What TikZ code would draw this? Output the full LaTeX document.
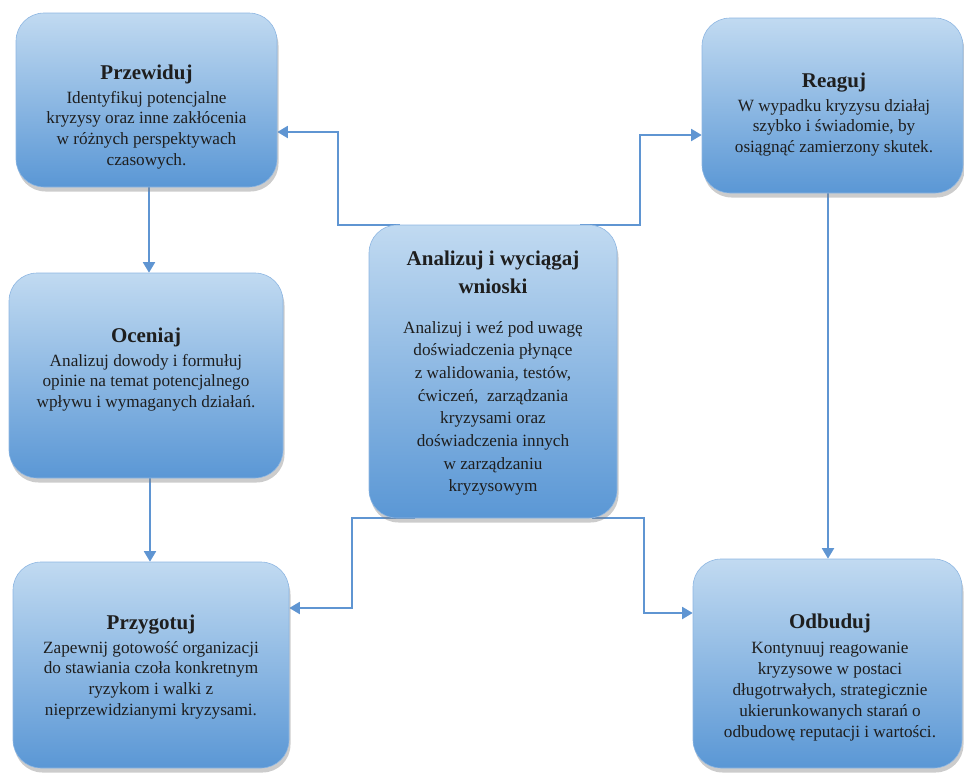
\documentclass[tikz,border=0pt]{standalone}
\usepackage{fontspec}
\setmainfont{Liberation Serif}
\usetikzlibrary{arrows.meta,shadows,backgrounds}
\definecolor{boxtop}{HTML}{C1DAF1}
\definecolor{boxbot}{HTML}{5A97D5}
\definecolor{boxedge}{HTML}{8DB6E2}
\definecolor{link}{HTML}{5F95D2}
\definecolor{ink}{HTML}{1E1E1E}

\begin{document}
\begin{tikzpicture}[x=1pt,y=-1pt,
  stagebox/.style={rectangle, rounded corners=28pt, inner sep=0pt,
    top color=boxtop, bottom color=boxbot, draw=boxedge, line width=0.6pt,
    drop shadow={shadow xshift=1.5pt, shadow yshift=-4.5pt, opacity=0.4}},
  ttl/.style={font=\fontsize{21}{28}\selectfont\bfseries, text=ink,
    align=center, inner sep=0pt, anchor=base},
  txt/.style={font=\fontsize{17.2}{20.8}\selectfont, text=ink,
    align=center, inner sep=0pt, anchor=base},
  conn/.style={draw=link, line width=1.8pt, -{Triangle[width=12pt,length=10.5pt]}}]

\useasboundingbox (0,0) rectangle (964,772);

% the six stages
\node[stagebox, minimum width=261pt, minimum height=174pt] (prz) at (146.5,100) {};
\node[stagebox, minimum width=274pt, minimum height=205pt] (oce) at (146,375.5) {};
\node[stagebox, minimum width=276pt, minimum height=206pt] (przyg) at (151,665) {};
\node[stagebox, minimum width=248pt, minimum height=293pt] (c) at (493,371.5) {};
\node[stagebox, minimum width=261pt, minimum height=175pt] (reag) at (832.5,105.5) {};
\node[stagebox, minimum width=269pt, minimum height=209pt] (odb) at (827.5,663.5) {};

% texts (a multi-line node sits on the baseline of its last line)
\node[ttl] (prz-t) at (146.5,79) {Przewiduj};
\node[txt] (prz-d) at (146.5,165.4) {Identyfikuj potencjalne\\kryzysy oraz inne zakłócenia\\w różnych perspektywach\\czasowych.};

\node[ttl] (oce-t) at (146,342) {Oceniaj};
\node[txt, font=\fontsize{17.2}{20.5}\selectfont] (oce-d) at (146,407) {Analizuj dowody i formułuj\\opinie na temat potencjalnego\\wpływu i wymaganych działań.};

\node[ttl] (przyg-t) at (151,629) {Przygotuj};
\node[txt] (przyg-d) at (151,715.4) {Zapewnij gotowość organizacji\\do stawiania czoła konkretnym\\ryzykom i walki z\\nieprzewidzianymi kryzysami.};

\node[ttl] (reag-t) at (834,87) {Reaguj};
\node[txt] (reag-d) at (834,152.6) {W wypadku kryzysu działaj\\szybko i świadomie, by\\osiągnąć zamierzony skutek.};

\node[ttl] (odb-t) at (830,628) {Odbuduj};
\node[txt, font=\fontsize{17.2}{21.2}\selectfont] (odb-d) at (830,737.8) {Kontynuuj reagowanie\\kryzysowe w postaci\\długotrwałych, strategicznie\\ukierunkowanych starań o\\odbudowę reputacji i wartości.};

\node[ttl] (c-t) at (493,293) {Analizuj i wyciągaj\\wnioski};
\node[txt, font=\fontsize{17.2}{22.7}\selectfont] (c-d) at (493,491.9) {Analizuj i weź pod uwagę\\doświadczenia płynące\\z walidowania, testów,\\ćwiczeń,\ \ zarządzania\\kryzysami oraz\\doświadczenia innych\\w zarządzaniu\\kryzysowym};

% connectors, kept behind the boxes
\coordinate (nw) at (338,132);
\coordinate (ne) at (640,135);
\coordinate (sw) at (352,608);
\coordinate (se) at (644,613);
\begin{pgfonlayer}{background}
\draw[conn] ([xshift=-93pt]c.north) -| (nw) -- (nw -| prz.east);
\draw[conn] ([xshift=87pt]c.north) -| (ne) -- (ne -| reag.west);
\draw[conn] ([xshift=-78pt]c.south) -| (sw) -- (sw -| przyg.east);
\draw[conn] ([xshift=99pt]c.south) -| (se) -- (se -| odb.west);
\draw[conn] ([xshift=2.5pt]prz.south) -- ([xshift=2.5pt]prz.south |- oce.north);
\draw[conn] ([xshift=4pt]oce.south) -- ([xshift=4pt]oce.south |- przyg.north);
\draw[conn] ([xshift=-4.5pt]reag.south) -- ([xshift=-4.5pt]reag.south |- odb.north);
\end{pgfonlayer}
\end{tikzpicture}
\end{document}
